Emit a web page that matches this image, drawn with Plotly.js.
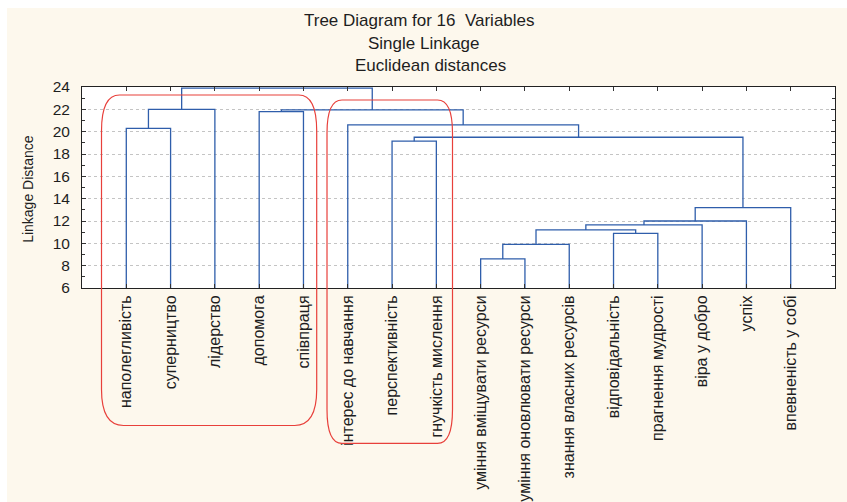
<!DOCTYPE html>
<html>
<head>
<meta charset="utf-8">
<script src="https://cdn.plot.ly/plotly-3.0.1.min.js"></script>
<style>
  html, body { margin: 0; padding: 0; background: #ffffff; width: 847px; height: 502px; overflow: hidden; }
  #chart { position: absolute; left: 7px; top: 8px; width: 840px; height: 494px; }
</style>
</head>
<body>
<div id="chart"></div>
<script>
// ---------- data ----------
const titleLines = ["Tree Diagram for 16  Variables", "Single Linkage", "Euclidean distances"];
const yAxisTitle = "Linkage Distance";
const leafLabels = [
  "наполегливість", "суперництво", "лідерство", "допомога", "співпраця",
  "інтерес до навчання", "перспективність", "гнучкість мислення",
  "уміння вміщувати ресурси", "уміння оновлювати ресурси", "знання власних ресурсів",
  "відповідальність", "прагнення мудрості", "віра у добро", "успіх", "впевненість у собі"
];
// merges: indices < 16 are leaves (in drawn order), index 16+k is the cluster made by merge k
const mergeA = [8, 16, 11, 17, 19, 20, 21, 6, 23, 0, 5, 3, 27, 25, 29];
const mergeB = [9, 10, 12, 18, 13, 14, 15, 7, 22, 1, 24, 4, 26, 2, 28];
const mergeHeight = [8.6, 9.9, 10.9, 11.2, 11.65, 12.0, 13.2, 19.15, 19.5, 20.3, 20.6, 21.8, 21.95, 22.0, 23.9];
const yMin = 6, yMax = 24;

// ---------- build dendrogram segments ----------
const nLeaves = leafLabels.length;
const nodeX = [], nodeY = [];
for (let i = 0; i < nLeaves; i++) { nodeX.push(i + 1); nodeY.push(yMin); }
const lx = [], ly = [];
for (let k = 0; k < mergeHeight.length; k++) {
  const a = mergeA[k], b = mergeB[k], h = mergeHeight[k];
  lx.push(nodeX[a], nodeX[a], nodeX[b], nodeX[b], null);
  ly.push(nodeY[a], h, h, nodeY[b], null);
  nodeX.push((nodeX[a] + nodeX[b]) / 2);
  nodeY.push(h);
}

const trace = {
  x: lx, y: ly, type: "scatter", mode: "lines",
  line: { color: "#2f5eab", width: 1.3 },
  hoverinfo: "skip", showlegend: false, cliponaxis: false
};

// ---------- layout geometry (page pixels) ----------
const divLeft = 7, divTop = 8;
const plotL = 82, plotT = 87, plotR = 835, plotB = 288.3;
const pw = plotR - plotL, ph = plotB - plotT;
const px2x = p => (p - plotL) / pw;
const py2y = p => (plotB - p) / ph;

function roundedRect(x0, y0, x1, y1, rxT, ryT, rxB, ryB) {
  const P = (x, y) => px2x(x).toFixed(5) + "," + py2y(y).toFixed(5);
  return "M" + P(x0, y0 + ryT) +
    " Q" + P(x0, y0) + " " + P(x0 + rxT, y0) +
    " L" + P(x1 - rxT, y0) +
    " Q" + P(x1, y0) + " " + P(x1, y0 + ryT) +
    " L" + P(x1, y1 - ryB) +
    " Q" + P(x1, y1) + " " + P(x1 - rxB, y1) +
    " L" + P(x0 + rxB, y1) +
    " Q" + P(x0, y1) + " " + P(x0, y1 - ryB) + " Z";
}

const redLine = { color: "#e8403b", width: 1.2 };
const shapes = [
  { type: "path", xref: "paper", yref: "paper", path: roundedRect(101.5, 95, 316.7, 426, 18, 36, 22, 36), line: redLine },
  { type: "path", xref: "paper", yref: "paper", path: roundedRect(327, 100, 452.5, 444, 15, 33, 15, 34), line: redLine }
];

const titleFont = { family: "Liberation Sans, Arial, sans-serif", size: 17, color: "#1e1e1e" };
const titleCenters = [[419, 20.5], [424, 43], [430, 65]];
const annotations = titleLines.map((t, i) => ({
  text: t, xref: "paper", yref: "paper",
  x: px2x(titleCenters[i][0]), y: py2y(titleCenters[i][1]),
  xanchor: "center", yanchor: "middle", showarrow: false, font: titleFont
}));
annotations.push({
  text: yAxisTitle, xref: "paper", yref: "paper",
  x: px2x(28), y: py2y(189), textangle: -90,
  xanchor: "center", yanchor: "middle", showarrow: false,
  font: { family: "Liberation Sans, Arial, sans-serif", size: 14, color: "#1e1e1e" }
});

const layout = {
  width: 840, height: 494,
  margin: { l: plotL - divLeft, r: 840 - (plotR - divLeft), t: plotT - divTop, b: 494 - (plotB - divTop), pad: 0 },
  paper_bgcolor: "#fdf8ed",
  plot_bgcolor: "#ffffff",
  showlegend: false,
  xaxis: {
    range: [0, nLeaves + 1],
    tickmode: "array",
    tickvals: leafLabels.map((_, i) => i + 1),
    ticktext: leafLabels,
    tickangle: -90,
    ticks: "inside", ticklen: 4, tickcolor: "#333",
    showline: true, linecolor: "#222", linewidth: 1, mirror: "allticks",
    showgrid: false, zeroline: false,
    tickfont: { family: "Liberation Sans, Arial, sans-serif", size: 16, color: "#1e1e1e" },
    fixedrange: true
  },
  yaxis: {
    range: [yMin, yMax],
    tickmode: "linear", tick0: 0, dtick: 2,
    ticks: "inside", ticklen: 4, tickcolor: "#333",
    minor: { dtick: 1, tick0: 0, ticks: "inside", ticklen: 3, tickcolor: "#333", showgrid: false },
    showline: true, linecolor: "#222", linewidth: 1, mirror: "allticks",
    showgrid: true, gridcolor: "#c4c4c4", griddash: "dot", gridwidth: 1,
    zeroline: false,
    ticklabelstandoff: 8,
    tickfont: { family: "Liberation Sans, Arial, sans-serif", size: 15.5, color: "#1e1e1e" },
    fixedrange: true
  },
  shapes: shapes,
  annotations: annotations
};

Plotly.newPlot("chart", [trace], layout, { displayModeBar: false, staticPlot: true });
</script>
</body>
</html>
